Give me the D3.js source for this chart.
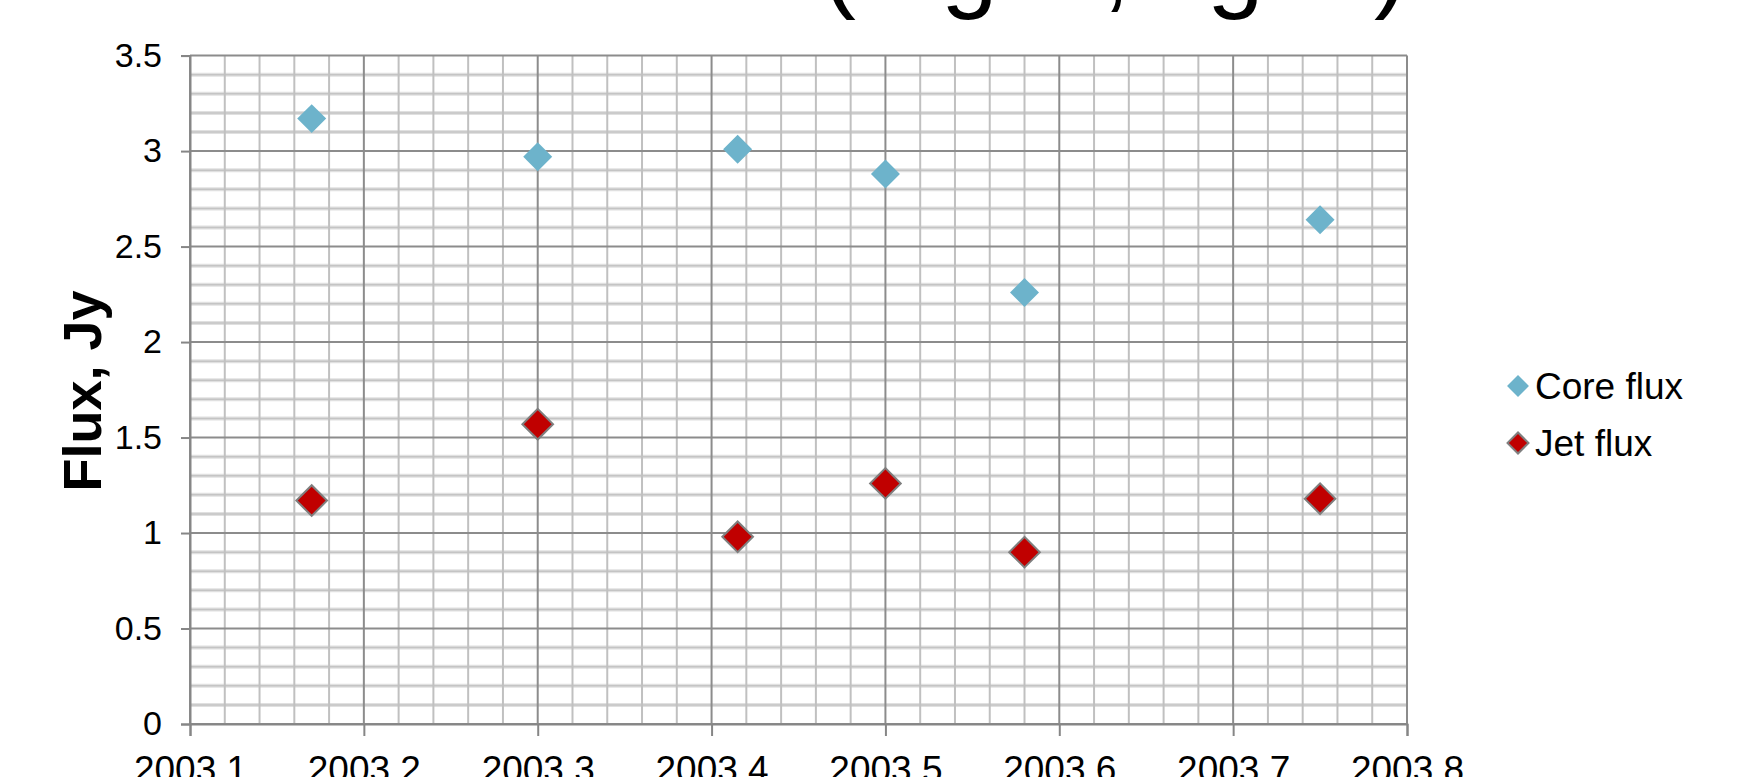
<!DOCTYPE html>
<html><head><meta charset="utf-8">
<script src="https://cdn.jsdelivr.net/npm/d3@7"></script>
<style>
html,body{margin:0;padding:0;background:#fff;overflow:hidden;}
text{font-family:Arial,"Liberation Sans",sans-serif;}
</style></head>
<body>
<svg id="chart" width="1744" height="777"></svg>
<script>
const coreX = [2003.170, 2003.300, 2003.415, 2003.500, 2003.580, 2003.750];
const coreY = [3.17, 2.97, 3.01, 2.88, 2.26, 2.64];
const jetX  = [2003.170, 2003.300, 2003.415, 2003.500, 2003.580, 2003.750];
const jetY  = [1.17, 1.57, 0.98, 1.26, 0.90, 1.18];
const xTicks = [2003.1, 2003.2, 2003.3, 2003.4, 2003.5, 2003.6, 2003.7, 2003.8];
const yTicks = [0, 0.5, 1, 1.5, 2, 2.5, 3, 3.5];
const seriesNames = ["Core flux", "Jet flux"];
const titleParts = ["(Mg", " 1,", "Ag", " 2)"];
const yTitle = "Flux, Jy";

const svg = d3.select("#chart");
const L = 190, R = 1407, T = 55.6, B = 724;
const x = d3.scaleLinear().domain([2003.1, 2003.8]).range([L, R]);
const y = d3.scaleLinear().domain([0, 3.5]).range([B, T]);

// title (only descenders visible at the top edge)
const titlePos = [822, 1017, 1139, 1289];
const title = svg.append("text").attr("y", -1).attr("font-size", 102).attr("fill", "#000");
title.selectAll("tspan").data(titleParts).join("tspan")
  .attr("x", (d, i) => titlePos[i]).attr("y", -1).text(d => d);

const g = svg.append("g");
// minor grid
const xMinor = d3.range(0, 36).map(i => 2003.1 + i * 0.02).filter((v, i) => i % 5 !== 0);
const yMinor = d3.range(0, 36).map(i => i * 0.1).filter((v, i) => i % 5 !== 0);
g.selectAll(".hmin").data(yMinor).join("line")
  .attr("x1", L).attr("x2", R).attr("y1", d => y(d)).attr("y2", d => y(d))
  .attr("stroke", "#e0e0e0").attr("stroke-width", 4);
g.selectAll(".hmin2").data(yMinor).join("line")
  .attr("x1", L).attr("x2", R).attr("y1", d => y(d)).attr("y2", d => y(d))
  .attr("stroke", "#c4c4c4").attr("stroke-width", 1.5);
g.selectAll(".vmin").data(xMinor).join("line")
  .attr("y1", T).attr("y2", B).attr("x1", d => x(d)).attr("x2", d => x(d))
  .attr("stroke", "#c0c0c0").attr("stroke-width", 2);
// major grid
g.selectAll(".hmaj").data(yTicks).join("line")
  .attr("x1", L).attr("x2", R).attr("y1", d => y(d)).attr("y2", d => y(d))
  .attr("stroke", "#8c8c8c").attr("stroke-width", 2);
g.selectAll(".vmaj").data(xTicks).join("line")
  .attr("y1", T).attr("y2", B).attr("x1", d => x(d)).attr("x2", d => x(d))
  .attr("stroke", "#8c8c8c").attr("stroke-width", 2);

// axes
const yAxis = svg.append("g").attr("transform", `translate(${L},0)`)
  .call(d3.axisLeft(y).tickValues(yTicks).tickSize(9).tickPadding(19)
    .tickFormat(d => d3.format("~g")(d)));
yAxis.select(".domain").attr("stroke", "#868686").attr("stroke-width", 2);
yAxis.selectAll(".tick line").attr("stroke", "#868686").attr("stroke-width", 2);
yAxis.selectAll(".tick text").attr("font-size", 34).attr("fill", "#000")
  .attr("font-family", "Arial, 'Liberation Sans', sans-serif");

const xAxis = svg.append("g").attr("transform", `translate(0,${B})`)
  .call(d3.axisBottom(x).tickValues(xTicks).tickSize(12).tickPadding(20)
    .tickFormat(d3.format(".1f")));
xAxis.select(".domain").attr("stroke", "#868686").attr("stroke-width", 2);
xAxis.selectAll(".tick line").attr("stroke", "#868686").attr("stroke-width", 2);
xAxis.selectAll(".tick text").attr("font-size", 37).attr("fill", "#000")
  .attr("font-family", "Arial, 'Liberation Sans', sans-serif");

// y title
svg.append("text").attr("transform", "translate(101,391) rotate(-90)")
  .attr("text-anchor", "middle").attr("font-size", 54).attr("font-weight", "bold")
  .attr("fill", "#000").text(yTitle);

// markers
const sq = (a) => d3.symbol().type(d3.symbolSquare).size(a)();
const coreData = coreX.map((v, i) => [v, coreY[i]]);
const jetData = jetX.map((v, i) => [v, jetY[i]]);
svg.append("g").selectAll("path").data(coreData).join("path")
  .attr("d", sq(420))
  .attr("transform", d => `translate(${x(d[0])},${y(d[1])}) rotate(45)`)
  .attr("fill", "#6db3cb");
svg.append("g").selectAll("path").data(jetData).join("path")
  .attr("d", sq(470))
  .attr("transform", d => `translate(${x(d[0])},${y(d[1])}) rotate(45)`)
  .attr("fill", "#c00000").attr("stroke", "#7f7f7f").attr("stroke-width", 2);

// legend
const leg = svg.append("g");
const legY = [386, 443];
leg.append("path").attr("d", sq(240))
  .attr("transform", `translate(1518,${legY[0]}) rotate(45)`).attr("fill", "#6db3cb");
leg.append("path").attr("d", sq(220))
  .attr("transform", `translate(1518,${legY[1]}) rotate(45)`)
  .attr("fill", "#c00000").attr("stroke", "#7f7f7f").attr("stroke-width", 2);
leg.selectAll("text").data(seriesNames).join("text")
  .attr("x", 1535).attr("y", (d, i) => legY[i]).attr("dy", "0.36em")
  .attr("font-size", 37).attr("fill", "#000").text(d => d);
</script>
</body></html>
